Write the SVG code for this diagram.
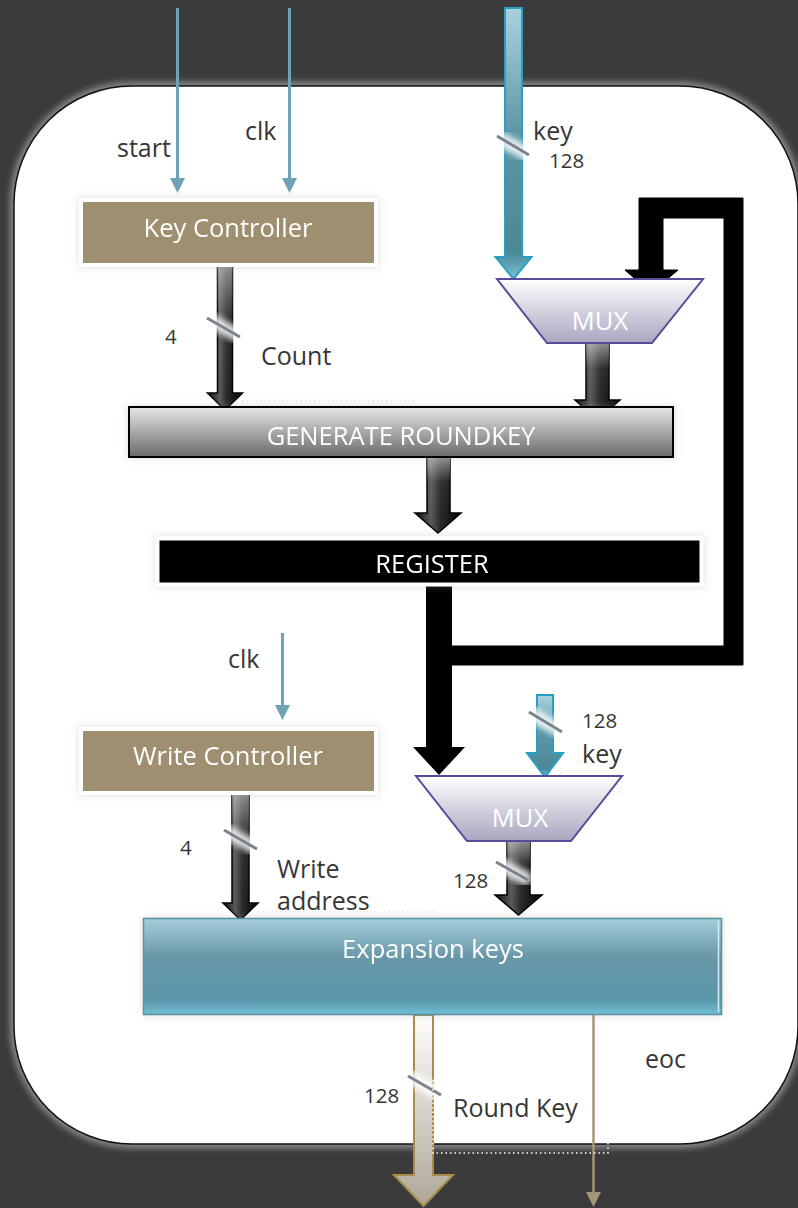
<svg xmlns="http://www.w3.org/2000/svg" width="798" height="1208" viewBox="0 0 798 1208">
  <style>
    .lbl { font-family: "Open Sans", "Liberation Sans", sans-serif; fill: #363636; font-size: 25px; }
    .num { font-family: "Open Sans", "Liberation Sans", sans-serif; fill: #363636; font-size: 20.5px; }
    .boxt { font-family: "Open Sans", "Liberation Sans", sans-serif; fill: #ffffff; font-size: 25.5px; text-anchor: middle; }
    .sig { stroke: #6ea3b4; stroke-width: 3; fill: none; }
    .sighead { fill: #6ea3b4; }
    .bus3d { fill: url(#busH); stroke: #000; stroke-width: 1.5; stroke-linejoin: miter; }
    .busshine { fill: url(#busV); }
    .keybus { fill: url(#keyV); stroke: #2a9fc6; stroke-width: 2; }
    .slash { stroke: #7b838d; stroke-width: 3; stroke-linecap: butt; }
    .slashglow { stroke: #ffffff; stroke-width: 14; stroke-linecap: round; opacity: 0.85; filter: url(#soft); }
    .dots { stroke: #ffffff; stroke-width: 1.5; stroke-dasharray: 1.5 3; fill: none; }
    .dotsfaint { stroke: #e8e8e8; stroke-width: 1.5; stroke-dasharray: 1.5 3; fill: none; }
    .mux { fill: url(#muxV); stroke: #5b4a9c; stroke-width: 2; }
  </style>
  <defs>
    <filter id="soft" x="-50%" y="-50%" width="200%" height="200%">
      <feGaussianBlur stdDeviation="3"/>
    </filter>
    <filter id="halo" x="-10%" y="-10%" width="120%" height="120%">
      <feGaussianBlur stdDeviation="3"/>
    </filter>
    <filter id="glow" x="-20%" y="-40%" width="140%" height="180%">
      <feDropShadow dx="0" dy="0" stdDeviation="4" flood-color="#9a9a8a" flood-opacity="0.35"/>
    </filter>
    <linearGradient id="busH" x1="0" y1="0" x2="1" y2="0">
      <stop offset="0" stop-color="#0c0c0c"/>
      <stop offset="0.35" stop-color="#5a5a5a"/>
      <stop offset="0.55" stop-color="#2a2a2a"/>
      <stop offset="1" stop-color="#050505"/>
    </linearGradient>
    <linearGradient id="busV" x1="0" y1="0" x2="0" y2="1">
      <stop offset="0" stop-color="#ffffff" stop-opacity="0.5"/>
      <stop offset="0.45" stop-color="#ffffff" stop-opacity="0.05"/>
      <stop offset="1" stop-color="#ffffff" stop-opacity="0"/>
    </linearGradient>
    <linearGradient id="keyV" x1="0" y1="0" x2="0" y2="1">
      <stop offset="0" stop-color="#aad2de"/>
      <stop offset="0.45" stop-color="#5e98a8"/>
      <stop offset="0.9" stop-color="#4a8797"/>
      <stop offset="1" stop-color="#7cc3d4"/>
    </linearGradient>
    <linearGradient id="rkV" x1="0" y1="0" x2="0" y2="1">
      <stop offset="0" stop-color="#ffffff"/>
      <stop offset="1" stop-color="#aea697"/>
    </linearGradient>
    <linearGradient id="muxV" x1="0" y1="0" x2="0" y2="1">
      <stop offset="0" stop-color="#ffffff"/>
      <stop offset="1" stop-color="#a9a5bf"/>
    </linearGradient>
    <linearGradient id="genV" x1="0" y1="0" x2="0" y2="1">
      <stop offset="0" stop-color="#e6e6e6"/>
      <stop offset="0.5" stop-color="#a8a8a8"/>
      <stop offset="1" stop-color="#6a6a6a"/>
    </linearGradient>
    <linearGradient id="expV" x1="0" y1="0" x2="0" y2="1">
      <stop offset="0" stop-color="#a7cfdc"/>
      <stop offset="0.4" stop-color="#6897a8"/>
      <stop offset="0.85" stop-color="#5a97aa"/>
      <stop offset="1" stop-color="#72bfd5"/>
    </linearGradient>
  </defs>

  <!-- backdrop and rounded panel -->
  <rect x="0" y="0" width="798" height="1208" fill="#3b3b3b"/>
  <rect x="14" y="86" width="784" height="1058" rx="118" ry="118" fill="none" stroke="#8e8e8e" stroke-width="8" filter="url(#halo)"/>
  <rect x="14" y="86" width="784" height="1058" rx="118" ry="118" fill="#ffffff" stroke="#111111" stroke-width="1.5"/>

  <!-- connectors -->
  <g id="connectors">
    <!-- start / clk inputs -->
    <line class="sig" x1="177.5" y1="8" x2="177.5" y2="180"/>
    <polygon class="sighead" points="170,178 185,178 177.5,193"/>
    <line class="sig" x1="289.5" y1="8" x2="289.5" y2="180"/>
    <polygon class="sighead" points="282,178 297,178 289.5,193"/>

    <!-- key input bus into first MUX -->
    <path class="keybus" d="M505 8 H522 V257 H531.5 L513.5 279 L495.5 257 H505 Z"/>
    <line class="slashglow" x1="500" y1="139" x2="526" y2="153"/>
    <line class="slash" x1="497" y1="136" x2="529" y2="155"/>

    <!-- count bus -->
    <path class="bus3d" d="M217.5 263 H232.5 V393 H242.5 L225 410 L207.5 393 H217.5 Z"/>
    <path class="busshine" d="M217.5 263 H232.5 V393 H217.5 Z"/>
    <line class="slashglow" x1="210" y1="320" x2="237" y2="335"/>
    <line class="slash" x1="207" y1="318" x2="240" y2="337"/>

    <!-- MUX to GENERATE -->
    <path class="bus3d" d="M586 343 H609 V400 H620 L597.5 420 L575 400 H586 Z"/>
    <path class="busshine" d="M586 343 H609 V400 H586 Z"/>

    <!-- GENERATE to REGISTER -->
    <path class="bus3d" d="M427 457 H450 V513 H461 L438 533 L415 513 H427 Z"/>
    <path class="busshine" d="M427 457 H450 V513 H427 Z"/>

    <!-- REGISTER output into second MUX and feedback loop -->
    <path d="M426 583 H452 V747 H465 L439 775 L413 747 H426 Z" fill="#000000"/>
    <path d="M452 646 H724 V218 H663 V270 H678 L651 293 L625 270 H639 V198 H743 V665 H452 Z" fill="#000000" stroke="#000000" stroke-width="1" stroke-linejoin="round"/>

    <!-- clk for write controller -->
    <line class="sig" x1="282.5" y1="633" x2="282.5" y2="707"/>
    <polygon class="sighead" points="275,705 290,705 282.5,720"/>

    <!-- key input into second MUX -->
    <path class="keybus" d="M537 695 H553 V753 H563 L545 777 L527 753 H537 Z"/>
    <line class="slashglow" x1="532" y1="714" x2="559" y2="730"/>
    <line class="slash" x1="529" y1="712" x2="562" y2="732"/>

    <!-- write address bus -->
    <path class="bus3d" d="M232 791 H249 V903 H258 L240.5 920 L223 903 H232 Z"/>
    <path class="busshine" d="M232 791 H249 V903 H232 Z"/>
    <line class="slashglow" x1="227" y1="832" x2="254" y2="847"/>
    <line class="slash" x1="224" y1="830" x2="257" y2="849"/>

    <!-- MUX to Expansion keys -->
    <path class="bus3d" d="M507 841 H530 V895 H542 L518.5 915 L495 895 H507 Z"/>
    <path class="busshine" d="M507 841 H530 V895 H507 Z"/>
    <line class="slashglow" x1="499" y1="864" x2="525" y2="878"/>
    <line class="slash" x1="496" y1="862" x2="528" y2="880"/>

    <!-- round key output -->
    <path d="M414 1015 H433 V1175 H453 L423.5 1206 L394 1175 H414 Z" fill="url(#rkV)" stroke="#a88c4a" stroke-width="2"/>
    <line class="slashglow" x1="411" y1="1078" x2="438" y2="1093"/>
    <line class="slash" x1="408" y1="1076" x2="441" y2="1095"/>

    <!-- eoc output -->
    <line x1="593.5" y1="1015" x2="593.5" y2="1194" stroke="#a39679" stroke-width="2.5"/>
    <polygon points="586,1192 601,1192 593.5,1207" fill="#a39679"/>

    <!-- text frame remnants -->
    <line class="dots" x1="97" y1="192" x2="196" y2="192"/>
    <line class="dotsfaint" x1="242" y1="401" x2="416" y2="401"/>
    <line class="dotsfaint" x1="258" y1="912" x2="435" y2="912"/>
    <polyline class="dotsfaint" points="561,768 561,792 620,792"/>
    <polyline class="dots" points="433,1080 433,1153 608,1153 608,1142"/>
  </g>

  <!-- nodes -->
  <g id="key-controller" filter="url(#glow)">
    <rect x="81" y="200" width="295" height="65" fill="#9e8f6f" stroke="#ffffff" stroke-width="4"/>
    <text class="boxt" x="228" y="237">Key Controller</text>
  </g>

  <g id="mux-1">
    <polygon class="mux" points="497,279 703,279 652,343 547,343"/>
    <text class="boxt" x="600" y="330">MUX</text>
  </g>

  <g id="generate-roundkey" filter="url(#glow)">
    <rect x="129" y="407" width="544" height="50" fill="url(#genV)" stroke="#000000" stroke-width="2"/>
    <text class="boxt" x="401" y="445">GENERATE ROUNDKEY</text>
  </g>

  <g id="register" filter="url(#glow)">
    <rect x="157.5" y="538.5" width="544" height="46" fill="#000000" stroke="#ffffff" stroke-width="4"/>
    <text class="boxt" x="432" y="573">REGISTER</text>
  </g>

  <g id="write-controller" filter="url(#glow)">
    <rect x="81" y="729" width="295" height="64" fill="#9e8f6f" stroke="#ffffff" stroke-width="4"/>
    <text class="boxt" x="228" y="765">Write Controller</text>
  </g>

  <g id="mux-2">
    <polygon class="mux" points="416,776 622,776 571,841 467,841"/>
    <text class="boxt" x="520" y="827">MUX</text>
  </g>

  <g id="expansion-keys" filter="url(#glow)">
    <rect x="143.5" y="918.5" width="578" height="96" fill="url(#expV)" stroke="#5a8fa1" stroke-width="1.5"/>
    <line x1="718.5" y1="921" x2="718.5" y2="1012" stroke="#cfeef6" stroke-width="1.5"/>
    <text class="boxt" x="433" y="958">Expansion keys</text>
  </g>

  <!-- labels -->
  <g id="labels">
    <text class="lbl" x="117" y="157">start</text>
    <text class="lbl" x="245" y="140">clk</text>
    <text class="lbl" x="533" y="140">key</text>
    <text class="num" x="549" y="168">128</text>
    <text class="num" x="165" y="344">4</text>
    <text class="lbl" x="261" y="365">Count</text>
    <text class="lbl" x="228" y="668">clk</text>
    <text class="num" x="582" y="728">128</text>
    <text class="lbl" x="582" y="763">key</text>
    <text class="num" x="180" y="855">4</text>
    <text class="lbl" x="277" y="878">Write</text>
    <text class="lbl" x="277" y="910">address</text>
    <text class="num" x="453" y="888">128</text>
    <text class="num" x="364" y="1103">128</text>
    <text class="lbl" x="453" y="1117">Round Key</text>
    <text class="lbl" x="645" y="1068">eoc</text>
  </g>
</svg>
